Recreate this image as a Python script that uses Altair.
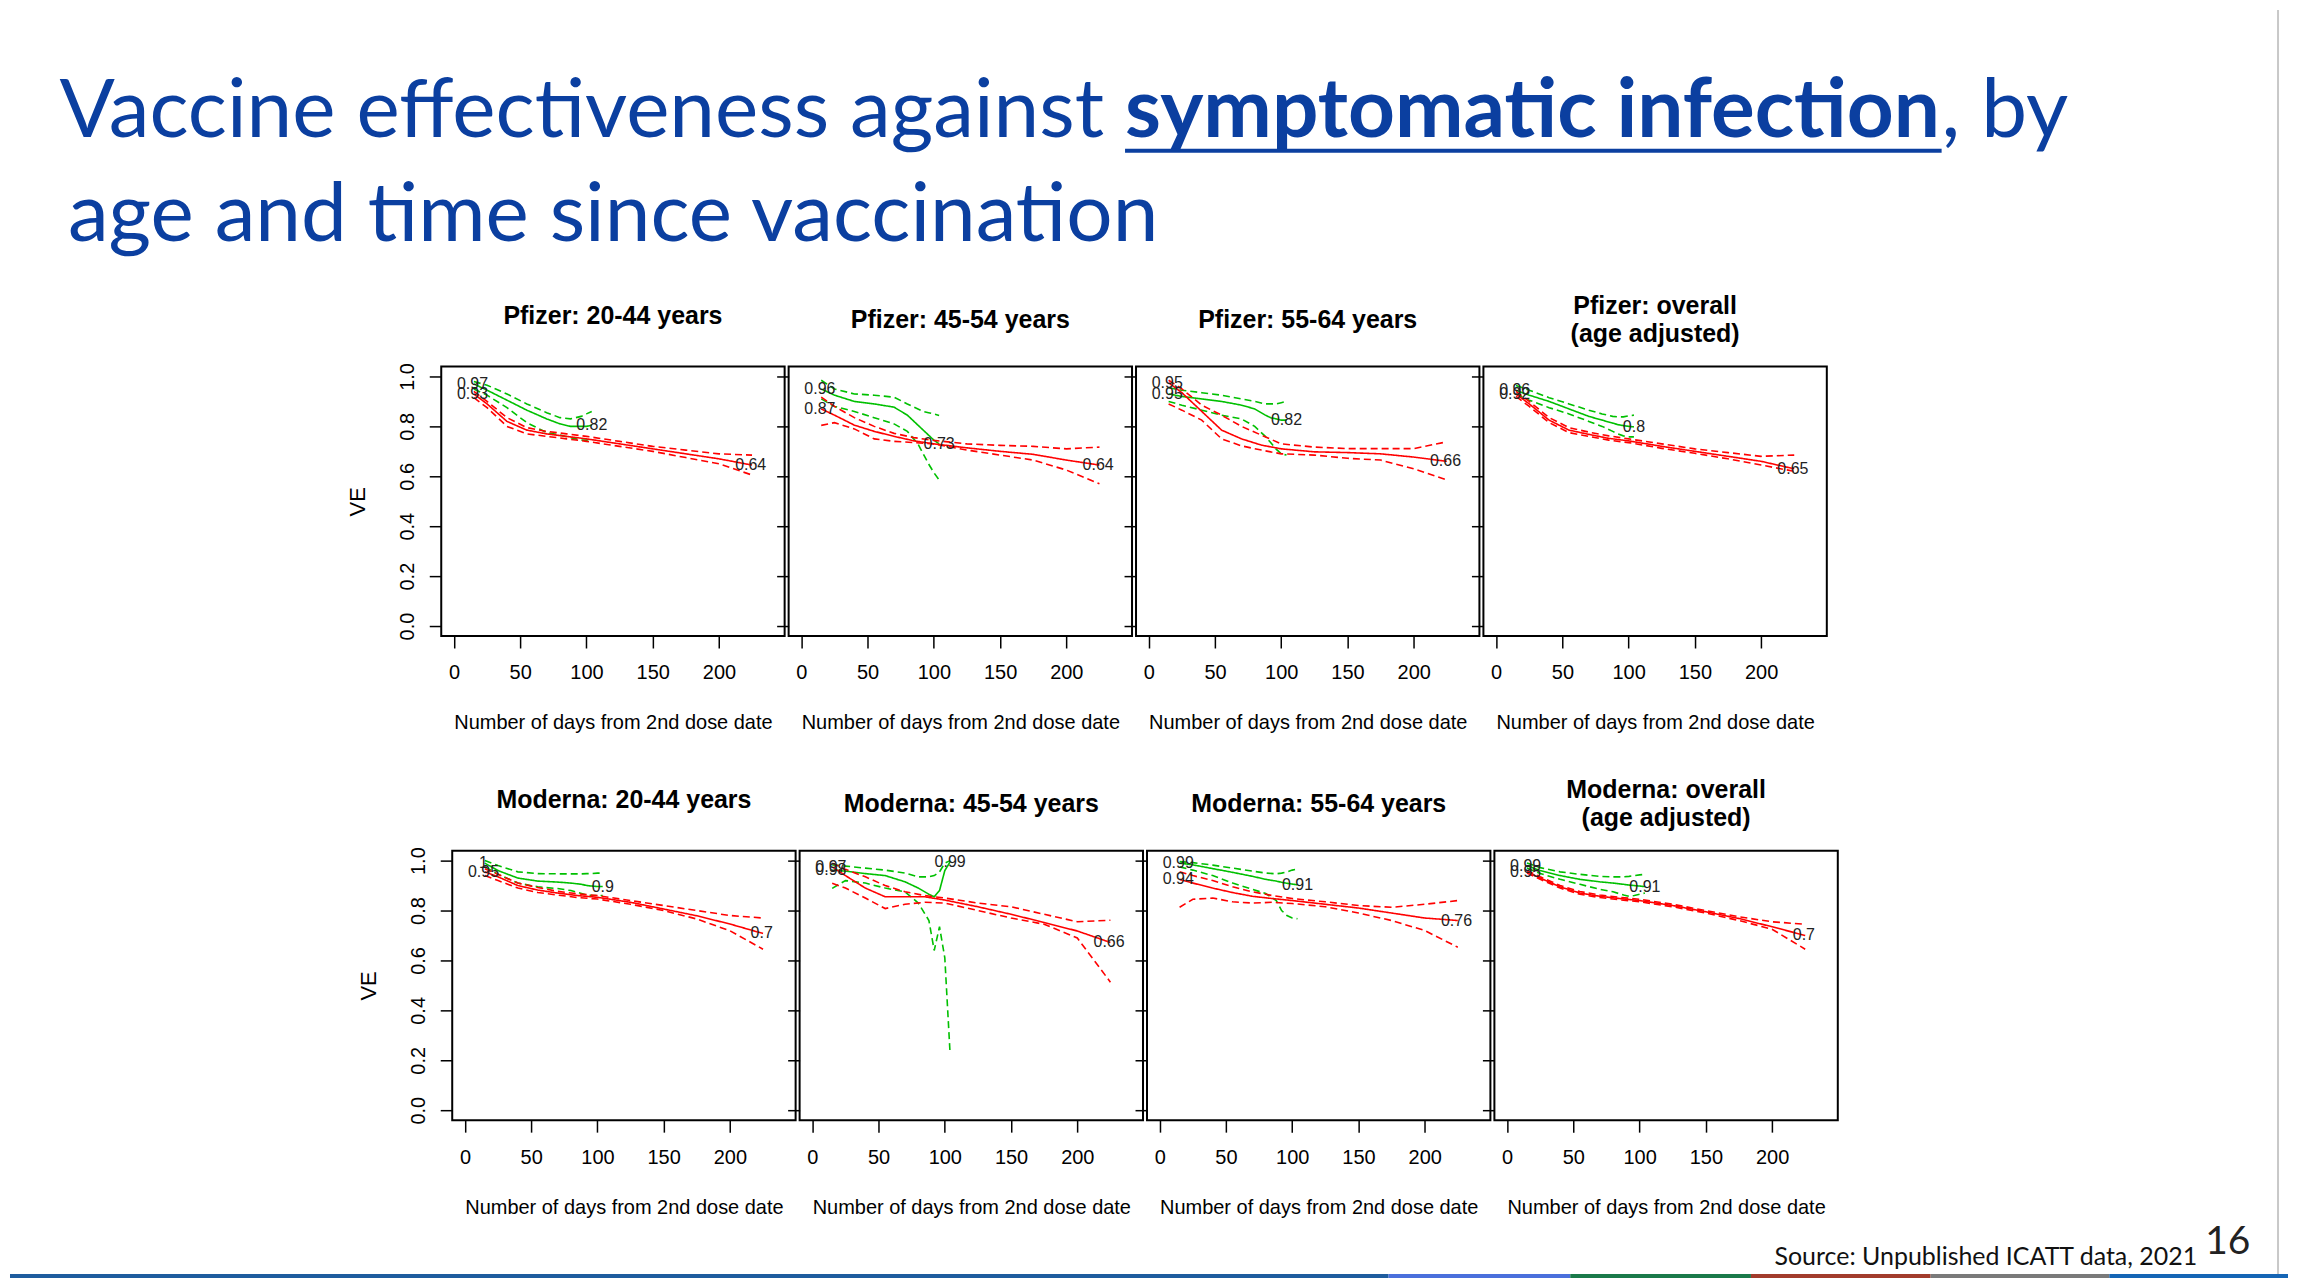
import altair as alt
import pandas as pd

# ---------------- data ----------------
GREEN_DAYS = [15, 25, 40, 55, 70, 80, 88, 92, 96, 100, 104]
RED_DAYS = [15, 25, 40, 55, 70, 85, 100, 125, 150, 175, 200, 225]

PANEL_TITLES = [
    ["Pfizer: 20-44 years"], ["Pfizer: 45-54 years"], ["Pfizer: 55-64 years"],
    ["Pfizer: overall", "(age adjusted)"],
    ["Moderna: 20-44 years"], ["Moderna: 45-54 years"], ["Moderna: 55-64 years"],
    ["Moderna: overall", "(age adjusted)"],
]

GREEN_MID = [
    [0.97, 0.945, 0.905, 0.865, 0.83, 0.81, 0.80, 0.80, 0.80, 0.80, 0.805],
    [0.95, 0.925, 0.90, 0.89, 0.877, 0.845, 0.805, 0.785, 0.765, 0.745, 0.73],
    [0.93, 0.92, 0.91, 0.90, 0.885, 0.87, 0.845, 0.835, 0.83, 0.825, 0.825],
    [0.944, 0.925, 0.90, 0.87, 0.84, 0.825, 0.813, 0.807, 0.803, 0.80, 0.798],
    [0.99, 0.96, 0.93, 0.918, 0.914, 0.91, 0.905, 0.90, 0.898, 0.896, 0.896],
    [0.962, 0.958, 0.948, 0.94, 0.915, 0.89, 0.865, 0.855, 0.88, 0.96, 0.995],
    [0.99, 0.983, 0.968, 0.953, 0.937, 0.925, 0.918, 0.913, 0.909, 0.906, 0.903],
    [0.98, 0.96, 0.94, 0.925, 0.915, 0.91, 0.905, 0.902, 0.90, 0.898, 0.896],
]
GREEN_UP = [
    [0.98, 0.965, 0.93, 0.89, 0.855, 0.835, 0.83, 0.835, 0.84, 0.85, 0.86],
    [0.985, 0.95, 0.93, 0.925, 0.917, 0.89, 0.87, 0.86, 0.855, 0.85, 0.844],
    [0.955, 0.945, 0.935, 0.925, 0.91, 0.90, 0.89, 0.89, 0.89, 0.895, 0.90],
    [0.964, 0.945, 0.915, 0.89, 0.865, 0.85, 0.84, 0.838, 0.838, 0.842, 0.845],
    [1.0, 0.98, 0.955, 0.948, 0.947, 0.947, 0.947, 0.948, 0.948, 0.95, 0.95],
    [0.983, 0.978, 0.97, 0.962, 0.95, 0.935, 0.935, 0.94, 0.955, 0.99, 1.0],
    [0.996, 0.992, 0.982, 0.97, 0.958, 0.95, 0.947, 0.95, 0.955, 0.962, 0.967],
    [0.99, 0.972, 0.955, 0.945, 0.937, 0.935, 0.935, 0.937, 0.94, 0.943, 0.945],
]
GREEN_LO = [
    [0.95, 0.925, 0.875, 0.815, 0.775, 0.765, 0.755, 0.75, 0.745, 0.745, 0.75],
    [0.91, 0.88, 0.86, 0.835, 0.81, 0.78, 0.73, 0.69, 0.65, 0.615, 0.585],
    [0.90, 0.885, 0.865, 0.845, 0.83, 0.80, 0.76, 0.735, 0.71, 0.69, 0.685],
    [0.93, 0.905, 0.875, 0.85, 0.82, 0.80, 0.78, 0.77, 0.762, 0.758, 0.758],
    [0.975, 0.945, 0.91, 0.895, 0.888, 0.88, 0.868, 0.862, 0.86, 0.86, 0.86],
    [0.889, 0.92, 0.91, 0.89, 0.875, 0.83, 0.76, 0.64, 0.735, 0.61, 0.225],
    [0.975, 0.962, 0.94, 0.91, 0.885, 0.868, 0.84, 0.80, 0.78, 0.77, 0.767],
    [0.97, 0.948, 0.925, 0.905, 0.885, 0.875, 0.862, 0.857, 0.86, 0.865, 0.87],
]
RED_MID = [
    [0.93, 0.89, 0.82, 0.785, 0.77, 0.76, 0.75, 0.73, 0.71, 0.69, 0.67, 0.645],
    [0.87, 0.845, 0.805, 0.78, 0.76, 0.742, 0.73, 0.714, 0.70, 0.688, 0.665, 0.645],
    [0.975, 0.935, 0.86, 0.785, 0.75, 0.725, 0.71, 0.698, 0.695, 0.69, 0.677, 0.66],
    [0.93, 0.89, 0.825, 0.785, 0.768, 0.752, 0.742, 0.72, 0.70, 0.68, 0.66, 0.63],
    [0.955, 0.935, 0.90, 0.882, 0.87, 0.86, 0.853, 0.833, 0.806, 0.779, 0.746, 0.708],
    [0.975, 0.94, 0.89, 0.855, 0.855, 0.855, 0.842, 0.815, 0.785, 0.752, 0.718, 0.672],
    [0.925, 0.91, 0.89, 0.872, 0.857, 0.848, 0.84, 0.825, 0.81, 0.79, 0.77, 0.76],
    [0.955, 0.93, 0.895, 0.87, 0.857, 0.848, 0.84, 0.82, 0.795, 0.768, 0.735, 0.70],
]
RED_UP = [
    [0.94, 0.90, 0.835, 0.795, 0.78, 0.77, 0.76, 0.74, 0.72, 0.705, 0.69, 0.685],
    [0.917, 0.88, 0.835, 0.80, 0.772, 0.755, 0.744, 0.73, 0.724, 0.72, 0.71, 0.717],
    [0.985, 0.95, 0.885, 0.845, 0.80, 0.765, 0.73, 0.717, 0.711, 0.711, 0.711, 0.738],
    [0.94, 0.90, 0.835, 0.795, 0.777, 0.762, 0.75, 0.73, 0.71, 0.695, 0.68, 0.685],
    [0.967, 0.945, 0.91, 0.892, 0.877, 0.867, 0.86, 0.84, 0.82, 0.80, 0.78, 0.77],
    [0.99, 0.965, 0.935, 0.90, 0.875, 0.86, 0.85, 0.83, 0.815, 0.785, 0.755, 0.761],
    [0.955, 0.94, 0.92, 0.895, 0.875, 0.86, 0.848, 0.835, 0.82, 0.813, 0.825, 0.84],
    [0.96, 0.935, 0.90, 0.876, 0.862, 0.853, 0.845, 0.825, 0.80, 0.775, 0.755, 0.745],
]
RED_LO = [
    [0.915, 0.875, 0.80, 0.77, 0.76, 0.75, 0.74, 0.72, 0.70, 0.675, 0.65, 0.605],
    [0.804, 0.815, 0.79, 0.75, 0.74, 0.735, 0.73, 0.705, 0.685, 0.665, 0.625, 0.57],
    [0.89, 0.865, 0.825, 0.75, 0.722, 0.705, 0.69, 0.685, 0.672, 0.665, 0.63, 0.585],
    [0.92, 0.88, 0.815, 0.775, 0.76, 0.745, 0.735, 0.712, 0.692, 0.67, 0.645, 0.62],
    [0.94, 0.92, 0.89, 0.872, 0.862, 0.852, 0.846, 0.825, 0.80, 0.766, 0.719, 0.645],
    [0.909, 0.89, 0.85, 0.808, 0.825, 0.833, 0.83, 0.80, 0.77, 0.745, 0.69, 0.513],
    [0.813, 0.845, 0.85, 0.835, 0.83, 0.833, 0.828, 0.815, 0.79, 0.76, 0.72, 0.653],
    [0.95, 0.925, 0.89, 0.865, 0.852, 0.843, 0.835, 0.815, 0.79, 0.76, 0.725, 0.645],
]
GREEN_START_LABELS = ["0.97", "0.96", "0.95", "0.96", "1", "0.98", "0.99", "0.99"]
RED_START_LABELS = ["0.93", "0.87", "0.95", "0.92", "0.95", "0.97", "0.94", "0.95"]
GREEN_END_LABELS = ["0.82", "0.73", "0.82", "0.8", "0.9", "0.99", "0.91", "0.91"]
RED_END_LABELS = ["0.64", "0.64", "0.66", "0.65", "0.7", "0.66", "0.76", "0.7"]

X_TICKS = [0, 50, 100, 150, 200]
Y_TICKS = [0.0, 0.2, 0.4, 0.6, 0.8, 1.0]

TITLE_LINE1_REGULAR = "Vaccine effectiveness against"
TITLE_LINE1_BOLD = "symptomatic infection"
TITLE_LINE1_TAIL = ", by"
TITLE_LINE2 = "age and time since vaccination"
SOURCE_TEXT = "Source: Unpublished ICATT data, 2021"
PAGE_NUMBER = "16"

# ---------------- styles ----------------
GREEN = "#00C000"
RED = "#FF0000"
BLUE = "#0B3FA0"
FONT = "Liberation Sans"
SLIDE_FONT = "Lato"
PANEL_W, PANEL_H = 344, 270


def panel(i, first_col):
    rows = []
    for name, arr, style in (("g_mid", GREEN_MID, "solid"), ("g_up", GREEN_UP, "dash"), ("g_lo", GREEN_LO, "dash")):
        for d, v in zip(GREEN_DAYS, arr[i]):
            rows.append({"day": d, "ve": v, "series": name, "grp": "green", "style": style})
    for name, arr, style in (("r_mid", RED_MID, "solid"), ("r_up", RED_UP, "dash"), ("r_lo", RED_LO, "dash")):
        for d, v in zip(RED_DAYS, arr[i]):
            rows.append({"day": d, "ve": v, "series": name, "grp": "red", "style": style})
    df = pd.DataFrame(rows)

    labels = pd.DataFrame([
        {"day": GREEN_DAYS[0] - 1, "ve": GREEN_MID[i][0], "lab": GREEN_START_LABELS[i]},
        {"day": RED_DAYS[0] - 1, "ve": RED_MID[i][0], "lab": RED_START_LABELS[i]},
        {"day": GREEN_DAYS[-1], "ve": GREEN_MID[i][-1], "lab": GREEN_END_LABELS[i]},
        {"day": RED_DAYS[-1] - 1, "ve": RED_MID[i][-1], "lab": RED_END_LABELS[i]},
    ])

    xs = alt.Scale(domain=[-9.6, 249.6], nice=False, zero=False)
    ys = alt.Scale(domain=[-0.04, 1.04], nice=False, zero=False)
    xaxis = alt.Axis(values=X_TICKS, title="Number of days from 2nd dose date",
                     labelPadding=15, titlePadding=30, labelFlush=False)
    if first_col:
        yaxis = alt.Axis(values=Y_TICKS, format=".1f", title="VE", labelAngle=270,
                         labelAlign="center", labelBaseline="bottom", labelPadding=12,
                         titlePadding=28, titleFontSize=22)
    else:
        yaxis = alt.Axis(values=Y_TICKS, labels=False, title="")

    x = alt.X("day:Q", scale=xs, axis=xaxis)
    y = alt.Y("ve:Q", scale=ys, axis=yaxis)
    color = alt.Color("grp:N", scale=alt.Scale(domain=["green", "red"], range=[GREEN, RED]), legend=None)
    dash = alt.StrokeDash("style:N", scale=alt.Scale(domain=["solid", "dash"], range=[[1, 0], [7, 4]]), legend=None)

    g = alt.Chart(df[df.grp == "green"]).mark_line(strokeWidth=1.6).encode(
        x=x, y=y, color=color, strokeDash=dash, detail="series:N")
    r = alt.Chart(df[df.grp == "red"]).mark_line(strokeWidth=1.6).encode(
        x=x, y=y, color=color, strokeDash=dash, detail="series:N")
    t = alt.Chart(labels).mark_text(font=FONT, fontSize=16, color="#222").encode(
        x=x, y=y, text="lab:N")

    two = len(PANEL_TITLES[i]) > 1
    title = alt.TitleParams(text=PANEL_TITLES[i], baseline="bottom", frame="group",
                            offset=-5 if two else 9, lineHeight=28)
    return alt.layer(g, r, t).properties(
        width=PANEL_W, height=PANEL_H, title=title,
        view=alt.ViewBackground(stroke="#000", strokeWidth=2))


def spacer(w, h):
    return alt.Chart(pd.DataFrame({"v": [0]})).mark_point(opacity=0).encode(
        x=alt.X("v:Q", axis=None), y=alt.Y("v:Q", axis=None)
    ).properties(width=w, height=h)


row1 = alt.hconcat(spacer(428, PANEL_H), *[panel(i, i == 0) for i in range(4)], spacing=4, bounds="flush")
row2 = alt.hconcat(spacer(439, PANEL_H), *[panel(i, i == 4) for i in range(4, 8)], spacing=4, bounds="flush")

# ---------------- slide decorations ----------------
base = alt.Chart(pd.DataFrame({"v": [0]}))
deco = [
    base.mark_text(text=TITLE_LINE1_REGULAR, font=SLIDE_FONT, fontSize=82, color=BLUE,
                   align="right", baseline="alphabetic").encode(x=alt.value(1096), y=alt.value(127)),
    base.mark_text(text=TITLE_LINE1_BOLD, font=SLIDE_FONT, fontSize=82, fontWeight="bold", color=BLUE,
                   align="left", baseline="alphabetic").encode(x=alt.value(1117), y=alt.value(127)),
    base.mark_text(text=TITLE_LINE1_TAIL, font=SLIDE_FONT, fontSize=82, color=BLUE,
                   align="left", baseline="alphabetic").encode(x=alt.value(1935), y=alt.value(127)),
    base.mark_rule(color=BLUE, strokeWidth=4).encode(x=alt.value(1117), x2=alt.value(1935), y=alt.value(141)),
    base.mark_text(text=TITLE_LINE2, font=SLIDE_FONT, fontSize=82, color=BLUE,
                   align="left", baseline="alphabetic").encode(x=alt.value(58), y=alt.value(231)),
    base.mark_text(text=SOURCE_TEXT, font=SLIDE_FONT, fontSize=25, color="#111",
                   align="right", baseline="alphabetic").encode(x=alt.value(2191), y=alt.value(1257)),
    base.mark_text(text=PAGE_NUMBER, font=SLIDE_FONT, fontSize=39, color="#222",
                   align="left", baseline="alphabetic").encode(x=alt.value(2199), y=alt.value(1246)),
    base.mark_rule(color="#c8c8c8", strokeWidth=2).encode(x=alt.value(2272), y=alt.value(0), y2=alt.value(1266)),
]
BAR_EDGES = [0, 1381, 1563, 1744, 1924, 2103, 2282]
BAR_COLORS = ["#1E5C9E", "#4A6FDC", "#1A7A4A", "#A23C2C", "#7A7A7A", "#1565B5"]
for k, c in enumerate(BAR_COLORS):
    deco.append(base.mark_rule(color=c, strokeWidth=4).encode(
        x=alt.value(BAR_EDGES[k]), x2=alt.value(BAR_EDGES[k + 1]), y=alt.value(1268)))

header = alt.layer(*deco).properties(width=2282, height=357)

chart = alt.vconcat(header, row1, spacer(10, 485), row2, spacing=0, bounds="flush").properties(
    padding=0, background="#ffffff"
).configure_view(strokeWidth=0).configure_axis(
    domain=False, grid=False, tickColor="#000", tickWidth=1.5, tickSize=12,
    labelFont=FONT, labelFontSize=20, labelColor="#000",
    titleFont=FONT, titleFontSize=20, titleFontWeight="normal", titleColor="#000",
).configure_title(font=FONT, fontSize=25, fontWeight="bold", color="#000", anchor="middle")

chart.save("out.html", embed_options={"renderer": "svg", "actions": False})
